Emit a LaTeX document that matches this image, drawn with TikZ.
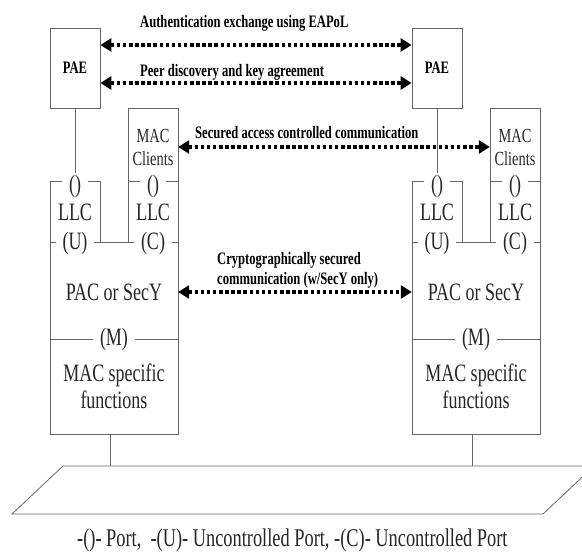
\documentclass[tikz,border=0pt]{standalone}
\usepackage{fontspec}
\setmainfont{Liberation Serif}
\newfontfamily\tallrm[FakeStretch=0.72]{Liberation Serif}
\usetikzlibrary{arrows.meta}

\tikzset{
  wire/.style={draw=black!60, line width=0.8pt},
  lbl/.style={font=\tallrm\fontsize{25}{23}\selectfont, text=black!85, inner sep=0pt, align=center},
  port/.style={lbl, fill=white, inner xsep=7pt, inner ysep=1pt},
  client/.style={lbl, font=\tallrm\fontsize{20}{23}\selectfont, minimum width=50pt},
  msg/.style={font=\tallrm\bfseries\fontsize{17.5}{20}\selectfont, inner sep=0pt, align=left},
  link/.style={line width=4.5pt, dash pattern=on 3.5pt off 2.6pt,
    {Triangle[length=11pt,width=13pt]}-{Triangle[length=11pt,width=13pt]}}
}

\begin{document}
\begin{tikzpicture}[x=1pt,y=-1pt]
  \clip (0,0) rectangle (582,553);

  % left station
  \node[wire, msg, align=center, minimum width=50pt, minimum height=80pt] (paeL) at (75,68) {PAE};
  \draw[wire] (100,242) -- (100,181) -- (50,181) -- (50,434) -- (178,434) -- (178,108) -- (128,108) -- (128,242);
  \draw[wire] (50,242) -- (178,242);
  \draw[wire] (128,181) -- (178,181);
  \draw[wire] (50,339) -- (178,339);
  \node[client] (cliL) at (153,147) {MAC\\Clients};
  \node[port] (pL1) at (75,186) {()};
  \node[port] (pL2) at (153,186) {()};
  \node[lbl] (llcL1) at (75,212) {LLC};
  \node[lbl] (llcL2) at (153,212) {LLC};
  \node[port] (uL) at (75,243) {(U)};
  \node[port] (cL) at (153,243) {(C)};
  \node[lbl, minimum width=128pt] (pacL) at (114,292) {PAC or SecY};
  \node[port] (mL) at (114,339) {(M)};
  \node[lbl, font=\tallrm\fontsize{25}{27}\selectfont] (macL) at (114,386) {MAC specific\\functions};
  \draw[wire] (paeL) -- (pL1);
  \coordinate (baseL) at (110,434);
  \coordinate (lanL) at (110,466);
  \draw[wire] (baseL) -- (lanL);

  % right station
  \node[wire, msg, align=center, minimum width=50pt, minimum height=80pt] (paeR) at (437,68) {PAE};
  \draw[wire] (462,242) -- (462,181) -- (412,181) -- (412,434) -- (540,434) -- (540,108) -- (490,108) -- (490,242);
  \draw[wire] (412,242) -- (540,242);
  \draw[wire] (490,181) -- (540,181);
  \draw[wire] (412,339) -- (540,339);
  \node[client] (cliR) at (515,147) {MAC\\Clients};
  \node[port] (pR1) at (437,186) {()};
  \node[port] (pR2) at (515,186) {()};
  \node[lbl] (llcR1) at (437,212) {LLC};
  \node[lbl] (llcR2) at (515,212) {LLC};
  \node[port] (uR) at (437,243) {(U)};
  \node[port] (cR) at (515,243) {(C)};
  \node[lbl, minimum width=128pt] (pacR) at (476,292) {PAC or SecY};
  \node[port] (mR) at (476,339) {(M)};
  \node[lbl, font=\tallrm\fontsize{25}{27}\selectfont] (macR) at (476,386) {MAC specific\\functions};
  \draw[wire] (paeR) -- (pR1);
  \coordinate (baseR) at (472,434);
  \coordinate (lanR) at (472,466);
  \draw[wire] (baseR) -- (lanR);

  % shared medium
  \draw[wire] (12,514) -- (63,466) -- (594,466) -- (543,514) -- cycle;

  % exchanges
  \draw[link] (paeL.east |- 0,45) -- (paeR.west |- 0,45);
  \draw[link] (paeL.east |- 0,83) -- (paeR.west |- 0,83);
  \draw[link] (cliL.east) -- (cliR.west);
  \draw[link] (pacL.east) -- (pacR.west);
  \node[msg, anchor=base west] (authmsg) at (140,28) {Authentication exchange using EAPoL};
  \node[msg, anchor=base west] (peermsg) at (140,77) {Peer discovery and key agreement};
  \node[msg, anchor=base west] (secmsg) at (195,139) {Secured access controlled communication};
  \node[msg, anchor=north west] (cryptomsg) at (217,252) {Cryptographically secured\\communication (w/SecY only)};

  \node[lbl, font=\tallrm\fontsize{25.5}{23}\selectfont, anchor=base west] (legend) at (77,547) {-()- Port,\ \ -(U)- Uncontrolled Port, -(C)- Uncontrolled Port};
\end{tikzpicture}
\end{document}
